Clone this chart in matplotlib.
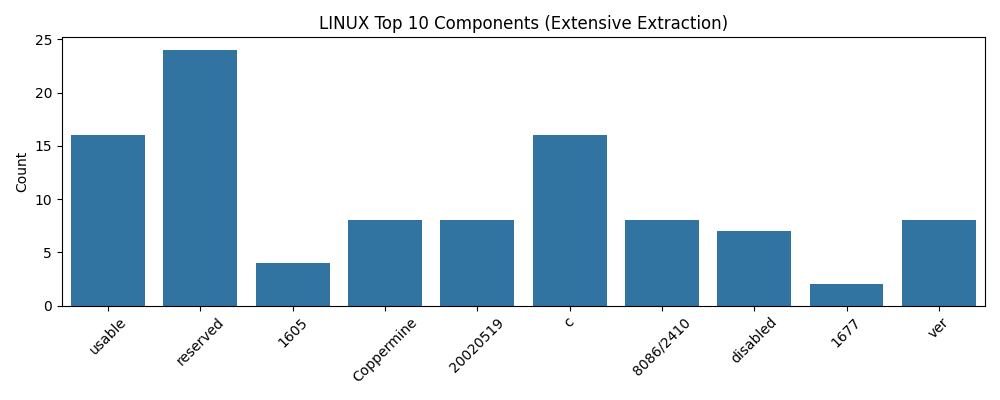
import matplotlib
matplotlib.use('Agg')
import matplotlib.pyplot as plt
import seaborn as sns
import pandas as pd

# --- Data ---
components = ['usable', 'reserved', '1605', 'Coppermine', '20020519',
              'c', '8086/2410', 'disabled', '1677', 'ver']
counts = [16, 24, 4, 8, 8, 16, 8, 7, 2, 8]

df = pd.DataFrame({'Component': components, 'Count': counts})

plt.figure(figsize=(10, 4))
sns.barplot(data=df, x='Component', y='Count')
plt.title('LINUX Top 10 Components (Extensive Extraction)')
plt.xlabel('')
plt.ylabel('Count')
plt.xticks(rotation=45)
plt.tight_layout()
plt.savefig('out.png', dpi=100)
